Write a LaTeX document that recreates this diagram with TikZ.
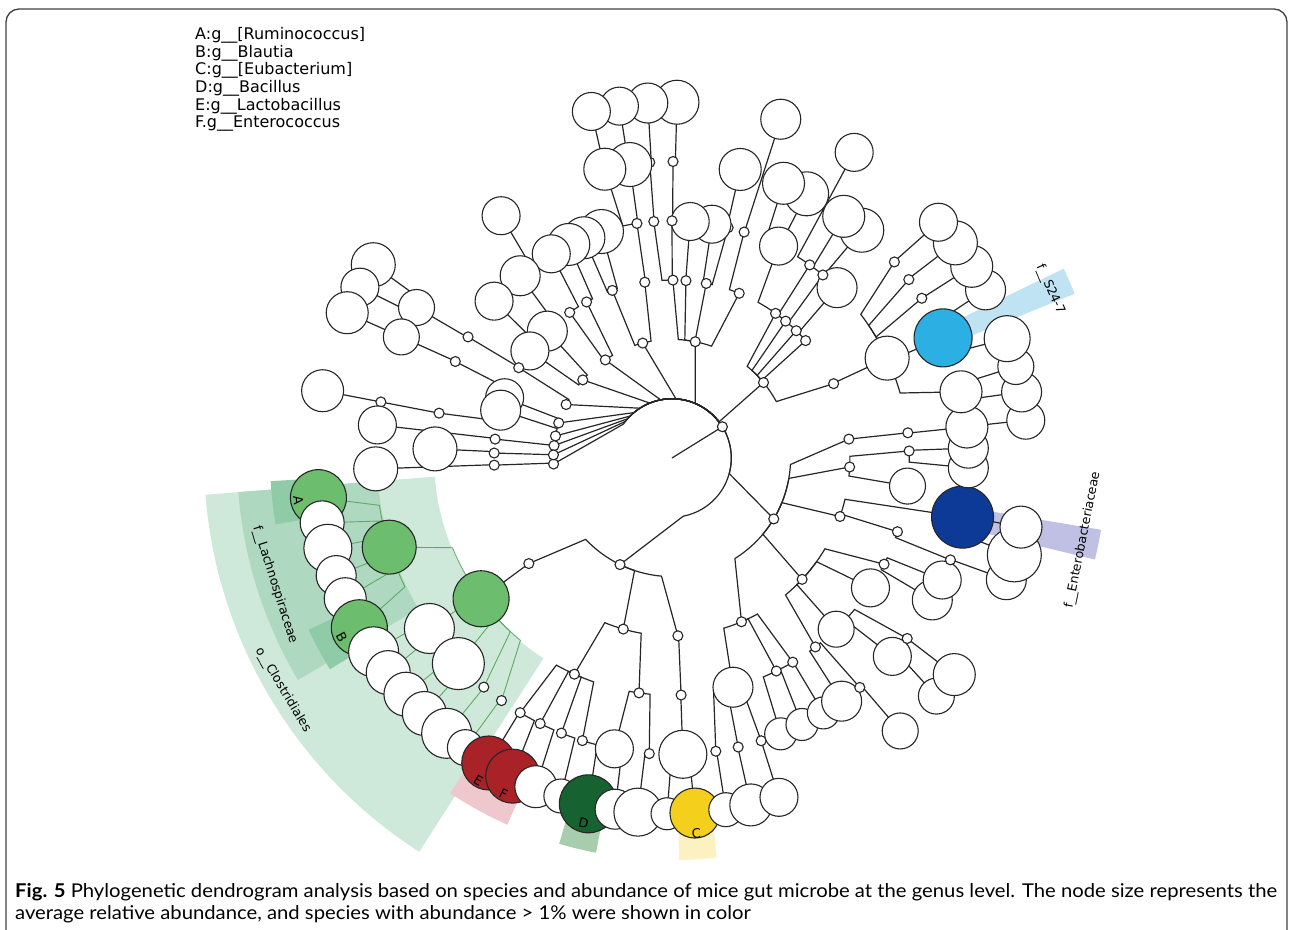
\documentclass[tikz,border=0pt]{standalone}
\usepackage{fontspec}
\setmainfont{DejaVu Sans}
\newfontfamily\capfont{Lato}
\usetikzlibrary{calc}

\definecolor{clogreen}{RGB}{108,189,110}
\definecolor{lacred}{RGB}{168,34,40}
\definecolor{bacgreen}{RGB}{22,98,48}
\definecolor{eubyellow}{RGB}{244,208,28}
\definecolor{s24blue}{RGB}{44,176,228}
\definecolor{entblue}{RGB}{12,58,150}
\definecolor{closec}{RGB}{206,233,217}
\definecolor{lachsec}{RGB}{174,217,192}
\definecolor{abseg}{RGB}{144,203,168}
\definecolor{efseg}{RGB}{238,200,204}
\definecolor{dseg}{RGB}{168,205,174}
\definecolor{cseg}{RGB}{252,241,192}
\definecolor{s24sec}{RGB}{192,227,243}
\definecolor{entsec}{RGB}{192,192,228}

\pgfdeclarelayer{sectors}
\pgfdeclarelayer{branches}
\pgfsetlayers{sectors,branches,main}

\tikzset{
  taxon/.style={circle, draw=black!85, line width=1.1pt, inner sep=0pt},
  branch/.style={line width=1.2pt, color=black!85},
  clobranch/.style={line width=.9pt, color=clogreen!90!black},
  cladelabel/.style={font=\fontsize{12.5}{13}\selectfont, inner sep=0pt},
  letter/.style={font=\fontsize{13}{13}\selectfont, inner sep=0pt},
  legend/.style={font=\fontsize{16}{17}\selectfont, anchor=west, inner sep=0pt},
}

\newcommand{\lv}{59.3}
% Ast: Klammer auf dem Radius des Elternknotens, dann gerade zum Kind.
\newcommand{\br}[3][branch]{%
  \draw[#1] let \p1=(#2.center), \p2=(#3.center),
    \n1={atan2(\y1,\x1)}, \n2={atan2(\y2,\x2)},
    \n3={veclen(\x1,\y1)}, \n4={mod(\n2-(\n1)+540,360)-180}
    in (#2.center) arc[start angle=\n1, delta angle={.75*(\n4)}, radius=\n3] -- (#3.center);}
\newcommand{\sector}[5]{%
  \fill[#1] (#2:#4) arc[start angle=#2, end angle=#3, radius=#4]
    -- (#3:#5) arc[start angle=#3, end angle=#2, radius=#5] -- cycle;}

\begin{document}
\begin{tikzpicture}[x=1pt, y=1pt]
    \useasboundingbox (-672,-471) rectangle (617,458);

    % Sektoren.
    \begin{pgfonlayer}{sectors}
        \sector{closec}{184.5}{237.3}{238}{468}
        \sector{lachsec}{184.5}{210.7}{295}{435}
        \sector{abseg}{183.3}{189.5}{370}{402}
        \sector{abseg}{205.3}{211.7}{370}{402}
        \sector{efseg}{236.5}{245.8}{372}{402}
        \sector{dseg}{253.7}{259.1}{372}{402}
        \sector{cseg}{271}{276.4}{372}{402}
        \sector{s24sec}{22.2}{25.8}{300}{435}
        \sector{entsec}{-13.5}{-9.5}{300}{435}
    \end{pgfonlayer}

    % Knoten.
    \coordinate (root) at (0,0);
    \foreach \n/\a/\l/\r/\c in {
        c9/-177.1/2/5/white, f6/-177.9/5/22/white, d6/-177.7/3/5/white,
        ga/-173.6/6/28/clogreen, k1/-169.5/6/22/white, k2/-165.3/6/24/white,
        lach/-162.5/5/27/clogreen, k3/-160.7/6/20/white, k4/-156.7/6/21/white,
        gb/-151.5/6/28/clogreen, k5/-147/6/25/white, h1/-144.9/5/25/white,
        d27/-143.6/3/5/white, clo/-143.6/4/28/clogreen, k6/-142.9/6/22/white,
        k7/-138.4/6/22/white, h2/-136.1/5/26/white, k8/-134.1/6/22/white,
        h3/-129.4/5/5/white, k9/-129.3/6/25/white, k10/-125.5/6/18/white,
        h4/-125.1/5/5/white, ge/-121/6/27/lacred, f35/-120.8/5/5/white,
        gf/-116.6/6/27/lacred, f36/-116.4/5/5/white, c13/-116/2/5/white,
        e36/-114.3/4/5/white, k11/-112.5/6/21/white, f37/-111.9/5/5/white,
        k12/-108.2/6/17/white, f38/-107.6/5/5/white, d28/-105.9/3/5/white,
        gd/-103.6/6/29/bacgreen, f39/-101.2/5/19/white, k13/-99.2/6/20/white,
        e37/-98/4/5/white, k14/-95.5/6/24/white, f40/-94.4/5/5/white,
        k15/-90.8/6/16/white, d29/-88.1/3/5/white, f41/-87.9/5/24/white,
        e38/-87.8/4/5/white, gc/-86.3/6/25/eubyellow, f31a/-81.5/5/5/white,
        g31a/-81.3/6/17/white, g31b/-77.2/6/21/white, f31b/-77.1/5/5/white,
        e34/-75.1/4/20/white, f31c/-72.5/5/5/white, g31c/-72.5/6/19/white,
        f32/-68.5/5/16/white, d26/-67/3/5/white, f33/-64/5/16/white,
        e30/-63.9/4/5/white, e31/-59.4/4/5/white, f34/-59.3/5/16/white,
        f30b/-55.1/5/20/white, e29/-52.8/4/5/white, f30/-50.7/5/5/white,
        g30/-50.1/6/18/white, e35/-46.2/4/18/white, d25/-43/3/5/white,
        f29c/-42/5/19/white, g29b/-42/6/18/white, f29/-37.5/5/5/white,
        g29a/-37.5/6/21/white, e28b/-33.2/4/19/white, c12/-30.9/2/5/white,
        f29b/-28.6/5/20/white, e28/-26.6/4/5/white, f29a/-24.3/5/19/white,
        f28/-20.1/5/5/white, g28/-20/6/20/white, d24/-19.2/3/5/white,
        e27/-18.1/4/5/white, g27/-15.8/6/27/white, ent/-11.5/5/31/entblue,
        g26/-11.2/6/21/white, e26b/-6.8/4/18/white, d23/-2.9/3/5/white,
        f27/-1.9/5/20/white, e26/1.7/4/5/white, f26/1.9/5/20/white,
        f25/6/5/21/white, e25/6.1/4/5/white, d22/6.1/3/5/white,
        g25/6.1/6/19/white, g24g/10.7/6/20/white, f24e/12.9/5/21/white,
        g24f/14.9/6/18/white, g24e/19.6/6/23/white, s24/23.9/5/29/s24blue,
        d21/24.7/3/5/white, e24/24.9/4/22/white, g24d/28.2/6/20/white,
        f24c/32.6/5/5/white, g24c/32.6/6/21/white, pA/31.8/1/5/white,
        f24b/37/5/5/white, g24b/37.2/6/22/white, c11/39.5/2/5/white,
        d20/41.3/3/5/white, f24a/41.4/5/5/white, g24a/41.5/6/19/white,
        d19/45.7/3/5/white, e23/45.9/4/20/white, f23/50.2/5/22/white,
        d18/50.3/3/5/white, e22/50.5/4/5/white, d17/54.4/3/5/white,
        e21/54.5/4/5/white, f22/54.6/5/21/white, g21/59.2/6/19/white,
        f21/63/5/22/white, e20/63.3/4/19/white, d16/67.8/3/5/white,
        f20/67.9/5/21/white, g19/72.2/6/20/white, e19/72.3/4/5/white,
        e18/76.3/4/5/white, f18/76.7/5/21/white, c10/78.7/2/5/white,
        d15/78.9/3/5/white, e17/80.3/4/19/white, d14/85.5/3/5/white,
        e16/85.6/4/19/white, g15/89.2/6/22/white, d13/89.7/3/5/white,
        f15/89.8/5/5/white, e15/90/4/5/white, g16/93.9/6/20/white,
        f16/94.3/5/5/white, e14/94.4/4/5/white, f14/98.2/5/22/white,
        e13/98.5/4/5/white, g14/98.5/6/19/white, d12/98.8/3/5/white,
        f13/103.1/5/21/white, g13/103.1/6/19/white, c1/104.3/2/5/white,
        e12/107.3/4/22/white, d11/109.6/3/5/white, e11/111.8/4/21/white,
        e10/115.8/4/21/white, d10/118.7/3/5/white, e9/120.6/4/19/white,
        c2/124.2/2/5/white, d9/125.1/3/5/white, f7/125.2/5/19/white,
        e7/129.8/4/20/white, d7/134.5/3/20/white, e8/138.6/4/19/white,
        c3/138.8/2/5/white, d8/143/3/19/white, g1/147.1/6/22/white,
        e1/149.3/4/5/white, d1/149.5/3/5/white, f1/149.5/5/18/white,
        g2/151.3/6/19/white, c4/153.2/2/5/white, e2/156/4/5/white,
        f2/155.9/5/18/white, g3/155.9/6/21/white, d2/160.2/3/19/white,
        c5/162.8/2/5/white, d3/164.4/3/20/white, e3/169.1/4/5/white,
        f3/169.1/5/5/white, g4/169.1/6/21/white, c6/169.3/2/5/white,
        f4/173.6/5/19/white, d4/173.9/3/5/white, c7/174/2/5/white,
        e5/177.8/4/22/white, d5/178.4/3/5/white, c8/178.5/2/5/white}
    {
        \node[taxon, minimum size={2*\r pt}, fill=\c] (\n) at ({\a}:{\l*\lv}) {};
    }

    % Aeste.
    \begin{pgfonlayer}{branches}
        \draw[branch] (root) -- (pA.center);
        \foreach \pa/\ch in {
            pA/c1, pA/c2, pA/c3, pA/c4, pA/c5, pA/c6, pA/c7, pA/c8, pA/c9,
            pA/c10, pA/c11, pA/c12, pA/c13,
            c4/d1, d1/e1, e1/f1, f1/g1, f1/g2,
            c5/d2, d2/e2, e2/f2, f2/g3,
            c6/d3, d3/e3, e3/f3, f3/g4,
            c7/d4, d4/f4, c8/d5, d5/e5, c9/d6, d6/f6,
            c3/d7, d7/e7, e7/f7, c3/d8, d8/e8,
            c2/d9, d9/e9, c2/d10, d10/e10,
            c1/d11, d11/e11, d11/e12, c1/d12, d12/e13, e13/f13, f13/g13, e13/f14, f14/g14,
            c10/d13, d13/e14, e14/f16, f16/g16, d13/e15, e15/f15, f15/g15,
            c10/d14, d14/e16, c10/d15, d15/e17, d15/e18, e18/f18,
            c10/d16, d16/e19, e19/g19,
            c11/d17, d17/e20, e20/f20, e20/f21, c11/d18, d18/e21, e21/g21,
            c11/d19, d19/e22, e22/f22, e22/f23, c11/d20, d20/e23,
            c11/d21, d21/e24, e24/f24a, f24a/g24a, e24/f24b, f24b/g24b,
            e24/f24c, f24c/g24c, e24/s24, s24/g24d, s24/g24e,
            e24/f24e, f24e/g24f, f24e/g24g,
            c12/d22, d22/e25, e25/f25, f25/g25,
            c12/d23, d23/e26, e26/f26, e26/f27, d23/e26b,
            c12/d24, d24/ent, ent/g26, ent/g27, d24/e27, e27/f28, f28/g28,
            c12/d25, d25/e28, e28/f29a, e28/f29b, d25/e28b,
            d25/e35, e35/f29, f29/g29a, f29/g29b, e35/f29c,
            d25/e29, e29/f30, f30/g30, e29/f30b,
            c12/d26, d26/e34, e34/f31a, f31a/g31a, e34/f31b, f31b/g31b,
            e34/f31c, f31c/g31c, d26/e30, e30/f32, d26/e31, e31/f33, e31/f34,
            c13/d27, d27/clo,
            c13/d28, d28/e36, e36/f35, f35/ge, f35/gf, e36/f36, f36/k11,
            e36/f37, f37/k12, e36/f38, f38/gd,
            d28/e37, e37/f39, f39/k13, e37/f40, f40/k14,
            c13/d29, d29/e38, e38/f41, f41/k15, f41/gc}
        {
            \br{\pa}{\ch}
        }
        \foreach \pa/\ch in {
            clo/lach, clo/h1, clo/h2, clo/h3, clo/h4,
            lach/ga, lach/k1, lach/k2, lach/k3, lach/k4, lach/gb,
            h1/k5, h1/k6, h2/k7, h2/k8, h3/k9, h4/k10}
        {
            \br[clobranch]{\pa}{\ch}
        }
    \end{pgfonlayer}

    % Beschriftung.
    \node[letter, rotate=-83.6] (labA) at (-173.6:376) {A};
    \node[letter, rotate=-61.5] (labB) at (-151.5:376) {B};
    \node[letter, rotate=-31]   (labE) at (-121:376)   {E};
    \node[letter, rotate=-26.6] (labF) at (-116.6:376) {F};
    \node[letter, rotate=-13.6] (labD) at (-103.6:376) {D};
    \node[letter, rotate=3.7]   (labC) at (-86.3:376)  {C};

    \node[cladelabel, rotate=-72.3] (lachlab) at (197.7:417) {f\_\_Lachnospiraceae};
    \node[cladelabel, rotate=-59.2] (clolab) at (210.8:453) {o\_\_Clostridiales};
    \node[cladelabel, rotate=-66] (s24lab) at (24:414) {f\_\_S24-7};
    \node[cladelabel, rotate=78.7] (entlab) at (-11.3:419) {f\_\_Enterobacteriaceae};

    % Legende.
    \foreach \t [count=\i] in {{A:g\_\_[Ruminococcus]}, {B:g\_\_Blautia},
        {C:g\_\_[Eubacterium]}, {D:g\_\_Bacillus}, {E:g\_\_Lactobacillus},
        {F.g\_\_Enterococcus}}
    {
        \node[legend] (leg\i) at (-477, 440-17.6*\i) {\t};
    }

    % Rahmen und Bildunterschrift.
    \draw[line width=1.3pt, black!75, rounded corners=13pt]
        (-666,-490) -- (-666,449) -- (615,449) -- (615,-490);
    \node[anchor=north west, inner sep=0pt] (caption) at (-657,-424)
        {\resizebox{1262pt}{\height}{\capfont\fontsize{19}{22}\selectfont
        \begin{tabular}{@{}l@{}}
        \textbf{Fig. 5} Phylogenetic dendrogram analysis based on species and abundance of mice gut microbe at the genus level. The node size represents the\\
        average relative abundance, and species with abundance > 1\% were shown in color
        \end{tabular}}};
\end{tikzpicture}
\end{document}
